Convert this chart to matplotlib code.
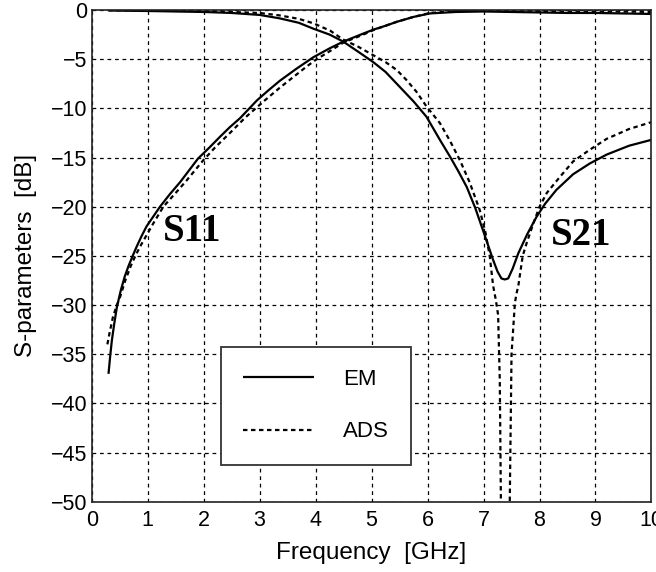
import matplotlib
matplotlib.use("Agg")
import matplotlib.pyplot as plt

# ---- data ----
s11_em_f = [0.30, 0.33, 0.36, 0.40, 0.45, 0.52, 0.59, 0.66, 0.74, 0.80, 0.89, 0.98, 1.10, 1.22,
            1.40, 1.58, 1.74, 1.90, 2.10, 2.29, 2.47, 2.65, 2.80, 2.95, 3.15, 3.36, 3.65, 3.96,
            4.25, 4.50, 4.85, 5.03, 5.25, 5.45, 5.75, 6.04, 6.50, 7.00, 7.50, 8.00, 8.50, 9.00,
            9.50, 10.0]
s11_em_db = [-37.0, -35.2, -33.6, -32.0, -30.2, -28.5, -27.1, -26.0, -24.9, -24.1, -23.0, -22.0,
             -21.0, -20.0, -18.7, -17.5, -16.3, -15.1, -14.0, -12.9, -11.9, -11.0, -10.1, -9.2,
             -8.2, -7.2, -6.0, -4.8, -3.9, -3.2, -2.4, -2.0, -1.6, -1.2, -0.7, -0.35, -0.2,
             -0.15, -0.2, -0.25, -0.3, -0.3, -0.35, -0.4]

s11_ads_f = [0.28, 0.32, 0.38, 0.45, 0.50, 0.60, 0.70, 0.78, 0.86, 0.98, 1.10, 1.28, 1.50, 1.70,
             1.99, 2.20, 2.47, 2.75, 3.09, 3.36, 3.65, 3.85, 4.02, 4.25, 4.50, 4.85, 5.05, 5.45,
             5.75, 6.04, 6.50, 7.00, 7.50, 8.00, 8.50, 9.00, 9.50, 10.0]
s11_ads_db = [-34.0, -32.8, -31.2, -30.0, -29.3, -27.5, -26.0, -25.0, -24.1, -22.9, -21.7, -20.0,
              -18.6, -17.3, -15.3, -14.0, -12.5, -10.9, -9.2, -7.9, -6.6, -5.7, -5.0, -4.2,
              -3.3, -2.5, -2.0, -1.2, -0.7, -0.3, -0.1, 0.0, 0.0, -0.1, -0.15, -0.15, -0.15,
              -0.2]

s21_em_f = [0.30, 1.00, 2.00, 2.50, 3.00, 3.36, 3.70, 3.96, 4.25, 4.49, 4.75, 5.03, 5.25, 5.45,
            5.75, 5.98, 6.22, 6.40, 6.55, 6.70, 6.85, 6.99, 7.08, 7.17, 7.25, 7.32, 7.38, 7.44,
            7.52, 7.62, 7.78, 7.95, 8.10, 8.30, 8.60, 8.90, 9.20, 9.60, 10.0]
s21_em_db = [-0.05, -0.1, -0.2, -0.3, -0.5, -0.85, -1.3, -1.9, -2.5, -3.2, -4.2, -5.3, -6.3, -7.5,
             -9.3, -10.85, -13.2, -14.9, -16.4, -18.0, -20.1, -22.4, -23.9, -25.4, -26.6, -27.3,
             -27.4, -27.3, -26.3, -24.75, -22.8, -21.0, -19.7, -18.3, -16.7, -15.6, -14.7, -13.8,
             -13.2]

s21_ads_f = [0.30, 1.00, 2.00, 3.00, 3.36, 3.70, 3.96, 4.26, 4.49, 4.75, 5.00, 5.25, 5.45, 5.62,
             5.80, 5.98, 6.22, 6.40, 6.58, 6.75, 6.93, 7.03, 7.11, 7.17, 7.22, 7.26, 7.29, 7.31,
             7.33, 7.45, 7.47, 7.50, 7.56, 7.59, 7.62, 7.70, 7.77, 7.89, 8.00, 8.13, 8.36, 8.60,
             8.90, 9.20, 9.60, 10.0]
s21_ads_db = [-0.02, -0.05, -0.1, -0.3, -0.55, -0.9, -1.35, -2.1, -3.0, -3.7, -4.5, -5.3, -6.1,
              -7.1, -8.3, -9.8, -11.5, -13.3, -15.3, -17.5, -20.3, -22.5, -25.0, -28.0, -29.5,
              -31.0, -37.6, -50.0, -60.0, -60.0, -49.2, -35.0, -29.8, -28.8, -28.1, -25.0, -23.7,
              -21.7, -20.0, -18.6, -17.0, -15.4, -14.2, -13.1, -12.1, -11.4]

x_ticks = [0, 1, 2, 3, 4, 5, 6, 7, 8, 9, 10]
y_ticks = [0, -5, -10, -15, -20, -25, -30, -35, -40, -45, -50]

plt.rcParams['font.family'] = ['Liberation Sans', 'DejaVu Sans']

fig = plt.figure(figsize=(6.56, 5.72), dpi=100)
ax = fig.add_axes([0.1398, 0.1229, 0.8533, 0.8596])

solid_kw = dict(color='black', lw=1.6, solid_capstyle='butt')
dash_kw = dict(color='black', lw=1.6, linestyle=(0, (2.0, 1.6)))

l_em, = ax.plot(s11_em_f, s11_em_db, label='EM', **solid_kw)
ax.plot(s21_em_f, s21_em_db, **solid_kw)
l_ads, = ax.plot(s11_ads_f, s11_ads_db, label='ADS', **dash_kw)
ax.plot(s21_ads_f, s21_ads_db, **dash_kw)

ax.set_xlim(0, 10)
ax.set_ylim(-50, 0)
ax.set_xticks(x_ticks)
ax.set_yticks(y_ticks)
ax.tick_params(length=0, labelsize=15.5)
ax.tick_params(axis='x', pad=6)
ax.tick_params(axis='y', pad=3)
ax.grid(True, color='black', linestyle=(0, (3, 3)), linewidth=0.9)
ax.set_axisbelow(True)
for sp in ax.spines.values():
    sp.set_linewidth(1.2)
    sp.set_color('#222222')

ax.set_xlabel('Frequency  [GHz]', fontsize=17.5, labelpad=8)
ax.set_ylabel('S\u2010parameters  [dB]', fontsize=17.5, labelpad=10)

ax.text(1.79, -22.5, 'S11', fontsize=28, fontweight='bold', family='Liberation Serif',
        ha='center', va='center')
ax.text(8.74, -22.9, 'S21', fontsize=28, fontweight='bold', family='Liberation Serif',
        ha='center', va='center')

leg = ax.legend(handles=[l_em, l_ads], loc='upper left', bbox_to_anchor=(0.231, 0.3146),
                borderaxespad=0, fontsize=16, handlelength=3.2, handletextpad=1.3,
                borderpad=1.0, labelspacing=1.4, fancybox=False, framealpha=1,
                edgecolor='#333333')
leg.get_frame().set_linewidth(1.3)

fig.savefig('out.png', dpi=100)
